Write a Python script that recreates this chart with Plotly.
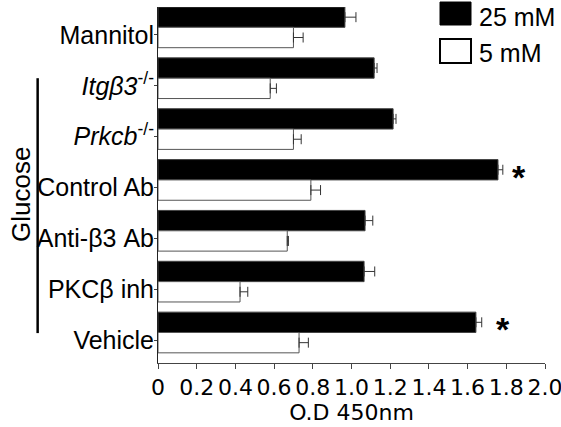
import plotly.graph_objects as go

categories = ["Mannitol", "<i>Itgβ3</i><sup>-/-</sup>", "<i>Prkcb</i><sup>-/-</sup>", "Control Ab",
              "Anti-β3 Ab", "PKCβ inh", "Vehicle"]
od_25mM = [0.966, 1.117, 1.215, 1.757, 1.07, 1.065, 1.643]
err_25mM = [0.057, 0.015, 0.015, 0.025, 0.04, 0.055, 0.03]
od_5mM = [0.70, 0.58, 0.70, 0.79, 0.668, 0.424, 0.729]
err_5mM = [0.05, 0.032, 0.04, 0.05, 0.006, 0.04, 0.048]
significant = [False, False, False, True, False, False, True]
x_ticks = [0, 0.2, 0.4, 0.6, 0.8, 1.0, 1.2, 1.4, 1.6, 1.8, 2.0]
x_ticktext = ["0", "0.2", "0.4", "0.6", "0.8", "1.0", "1.2", "1.4", "1.6", "1.8", "2.0"]

pos = list(range(len(categories)))
LAB_FONT = "Liberation Sans, Arial, sans-serif"
AX_FONT = "DejaVu Sans, sans-serif"

fig = go.Figure()
fig.add_trace(go.Bar(
    y=pos, x=od_25mM, orientation="h", name="25 mM",
    marker=dict(color="black", line=dict(color="#444", width=1)),
    error_x=dict(type="data", array=err_25mM, arrayminus=[0] * len(pos), symmetric=False,
                 color="#333", thickness=1, width=5),
))
fig.add_trace(go.Bar(
    y=pos, x=od_5mM, orientation="h", name="5 mM",
    marker=dict(color="white", line=dict(color="#555", width=1)),
    error_x=dict(type="data", array=err_5mM, arrayminus=[0] * len(pos), symmetric=False,
                 color="#333", thickness=1, width=5),
))

# significance stars
shifts = [0, 0, 0, 7, 0, 0, 12]
for i, sig in enumerate(significant):
    if sig:
        fig.add_annotation(x=od_25mM[i] + err_25mM[i], y=i - 0.2, xref="x", yref="y",
                           text="<b>*</b>", showarrow=False, xanchor="left", yanchor="middle",
                           xshift=shifts[i], yshift=-7,
                           font=dict(family=LAB_FONT, size=34, color="black"))

# manual legend (paper coordinates)
fig.add_shape(type="rect", xref="paper", yref="paper", x0=0.7287, x1=0.8088, y0=0.9494, y1=1.014,
              fillcolor="black", line=dict(color="black", width=1))
fig.add_shape(type="rect", xref="paper", yref="paper", x0=0.7287, x1=0.8088, y0=0.8427, y1=0.9101,
              fillcolor="white", line=dict(color="black", width=2))
fig.add_annotation(x=0.8243, y=0.972, xref="paper", yref="paper", text="25 mM", showarrow=False,
                   xanchor="left", yanchor="middle", font=dict(family=LAB_FONT, size=25, color="black"))
fig.add_annotation(x=0.8243, y=0.872, xref="paper", yref="paper", text="5 mM", showarrow=False,
                   xanchor="left", yanchor="middle", font=dict(family=LAB_FONT, size=25, color="black"))

# Glucose bracket
fig.add_shape(type="line", xref="paper", yref="paper", x0=-0.311, x1=-0.311, y0=0.084, y1=0.80,
              line=dict(color="black", width=2.5))
fig.add_annotation(x=-0.354, y=0.472, xref="paper", yref="paper", text="Glucose", showarrow=False,
                   textangle=-90, xanchor="center", yanchor="middle",
                   font=dict(family=LAB_FONT, size=26, color="black"))

fig.update_layout(
    width=561, height=427,
    margin=dict(l=158, r=16, t=7, b=64, autoexpand=False),
    barmode="group", bargap=0.2, bargroupgap=0,
    showlegend=False,
    plot_bgcolor="white", paper_bgcolor="white",
)
fig.update_xaxes(range=[0, 2.0], tickvals=x_ticks, ticktext=x_ticktext, showgrid=False, zeroline=False,
                 showline=True, linecolor="#444", linewidth=1, ticks="outside", ticklen=5, tickcolor="#444",
                 automargin=False, ticklabeloverflow="allow",
                 tickfont=dict(family=AX_FONT, size=22, color="black"),
                 title=dict(text="O.D 450nm", font=dict(family=AX_FONT, size=22, color="black"), standoff=4))
fig.update_yaxes(range=[6.6, -0.4], tickvals=[p + 0.15 for p in pos], ticktext=categories, showgrid=False,
                 zeroline=False, showline=True, linecolor="#222", linewidth=1, ticks="outside", ticklen=3,
                 automargin=False, ticklabeloverflow="allow", ticklabelstandoff=-5,
                 tickcolor="#444", tickfont=dict(family=LAB_FONT, size=25, color="black"))

fig.write_html("out.html", config={"displayModeBar": False},
               post_script="document.body.style.margin='0px';document.body.style.overflow='hidden';")
